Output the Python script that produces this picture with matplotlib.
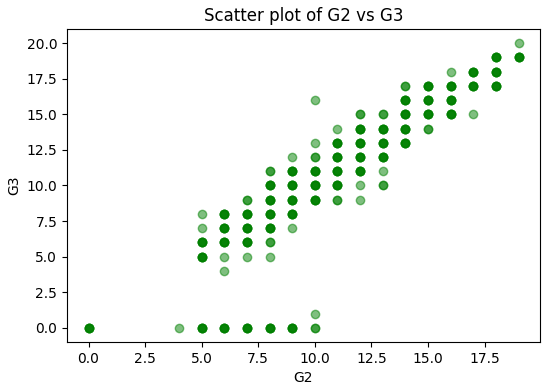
#!/usr/bin/env python3
# Scatter plot of second period grade vs final grade
import numpy as np
from matplotlib import pyplot as plt

# unique (G2, G3) pairs, with how many students sit on each
g2Values = [0, 4,
            5, 5, 5, 5, 5,
            6, 6, 6, 6, 6, 6,
            7, 7, 7, 7, 7, 7,
            8, 8, 8, 8, 8, 8, 8, 8,
            9, 9, 9, 9, 9, 9, 9,
            10, 10, 10, 10, 10, 10, 10, 10,
            11, 11, 11, 11, 11, 11,
            12, 12, 12, 12, 12, 12, 12,
            13, 13, 13, 13, 13, 13,
            14, 14, 14, 14, 14,
            15, 15, 15, 15,
            16, 16, 16, 16,
            17, 17, 17,
            18, 18, 18,
            19, 19]
g3Values = [0, 0,
            0, 5, 6, 7, 8,
            0, 4, 5, 6, 7, 8,
            0, 5, 6, 7, 8, 9,
            0, 5, 6, 7, 8, 9, 10, 11,
            0, 7, 8, 9, 10, 11, 12,
            0, 1, 9, 10, 11, 12, 13, 16,
            9, 10, 11, 12, 13, 14,
            9, 10, 11, 12, 13, 14, 15,
            10, 11, 12, 13, 14, 15,
            13, 14, 15, 16, 17,
            14, 15, 16, 17,
            15, 16, 17, 18,
            15, 17, 18,
            17, 18, 19,
            19, 20]
pointCounts = [5, 1,
               5, 5, 5, 1, 1,
               5, 1, 1, 5, 5, 5,
               5, 1, 5, 5, 5, 2,
               5, 1, 2, 5, 5, 5, 5, 2,
               5, 1, 5, 5, 5, 5, 1,
               2, 1, 5, 5, 5, 2, 1, 1,
               2, 5, 5, 5, 5, 1,
               1, 1, 5, 5, 5, 5, 2,
               2, 1, 5, 5, 5, 2,
               5, 5, 5, 5, 2,
               2, 5, 5, 5,
               5, 5, 5, 1,
               1, 5, 5,
               5, 5, 5,
               5, 1]

g2 = np.repeat(g2Values, pointCounts)
g3 = np.repeat(g3Values, pointCounts)

fig, ax = plt.subplots(figsize=(5.5, 3.87), dpi=100)
fig.subplots_adjust(left=67/550, right=540/550, top=1-29/387, bottom=1-342/387)
ax.scatter(g2, g3, color="green", alpha=0.5)
ax.set_title("Scatter plot of G2 vs G3")
ax.set_xlabel("G2")
ax.set_ylabel("G3")
fig.savefig("out.png")
plt.close(fig)
